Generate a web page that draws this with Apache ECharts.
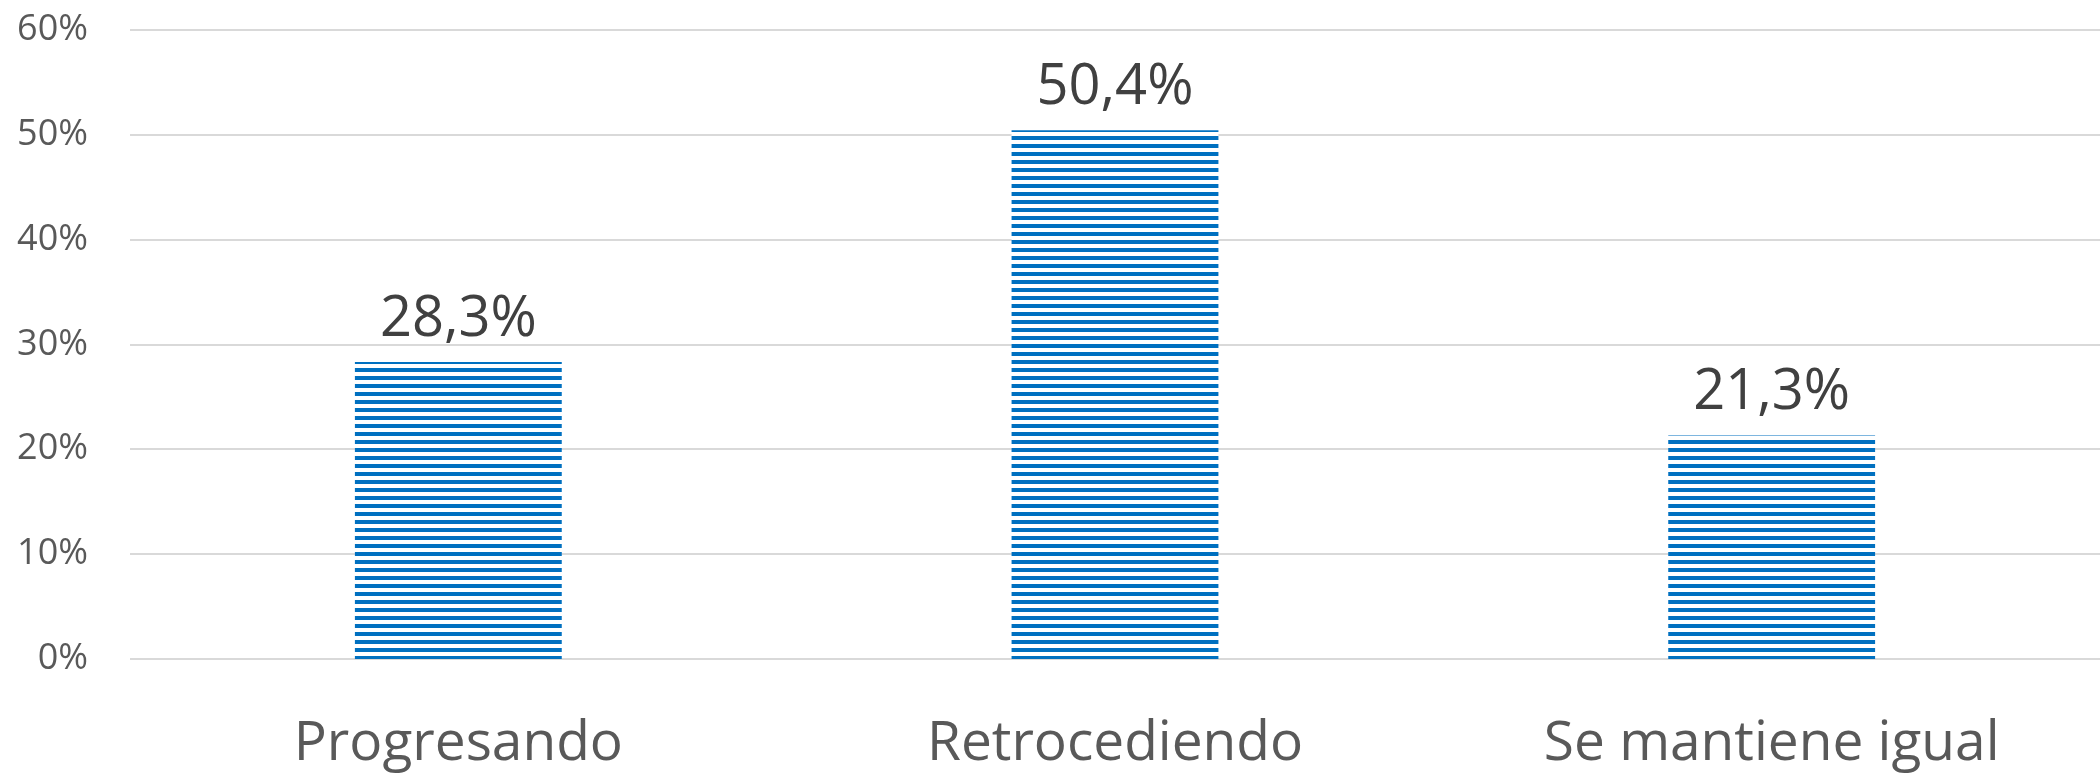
<!DOCTYPE html>
<html>
<head>
<meta charset="utf-8">
<script src="https://cdn.jsdelivr.net/npm/echarts@6/dist/echarts.min.js"></script>
<style>
html,body{margin:0;padding:0;background:#fff;}
#chart{width:2100px;height:773px;}
</style>
</head>
<body>
<div id="chart"></div>
<script>
const categories = ['Progresando', 'Retrocediendo', 'Se mantiene igual'];
const values = [28.3, 50.4, 21.3];
const yTicks = [0, 10, 20, 30, 40, 50, 60];

const FONT = 'Open Sans';
const BLUE = '#0070C0';

// horizontal stripe pattern
const pat = document.createElement('canvas');
pat.width = 8; pat.height = 8;
const pc = pat.getContext('2d');
pc.fillStyle = '#ffffff'; pc.fillRect(0, 0, 8, 8);
pc.fillStyle = BLUE; pc.fillRect(0, 0, 8, 4);

const chart = echarts.init(document.getElementById('chart'), null, {renderer: 'canvas'});
chart.setOption({
  animation: false,
  backgroundColor: '#ffffff',
  grid: {left: 130, right: 0, top: 29.5, bottom: 114, containLabel: false},
  xAxis: {
    type: 'category',
    data: categories,
    axisLine: {show: false},
    axisTick: {show: false},
    axisLabel: {color: '#595959', fontFamily: FONT, fontSize: 55, margin: 58}
  },
  yAxis: {
    type: 'value',
    min: yTicks[0],
    max: yTicks[yTicks.length - 1],
    interval: 10,
    axisLine: {show: false},
    axisTick: {show: false},
    splitLine: {lineStyle: {color: '#D9D9D9', width: 2}},
    axisLabel: {
      color: '#595959', fontFamily: FONT, fontSize: 36, margin: 42,
      formatter: v => v + '%'
    }
  },
  series: [{
    type: 'bar',
    data: values,
    barWidth: '31.5%',
    itemStyle: {color: {image: pat, repeat: 'repeat'}},
    label: {
      show: true,
      position: 'top',
      distance: 14,
      color: '#404040',
      fontFamily: FONT,
      fontSize: 56,
      formatter: p => p.value.toFixed(1).replace('.', ',') + '%'
    }
  }]
});
</script>
</body>
</html>
